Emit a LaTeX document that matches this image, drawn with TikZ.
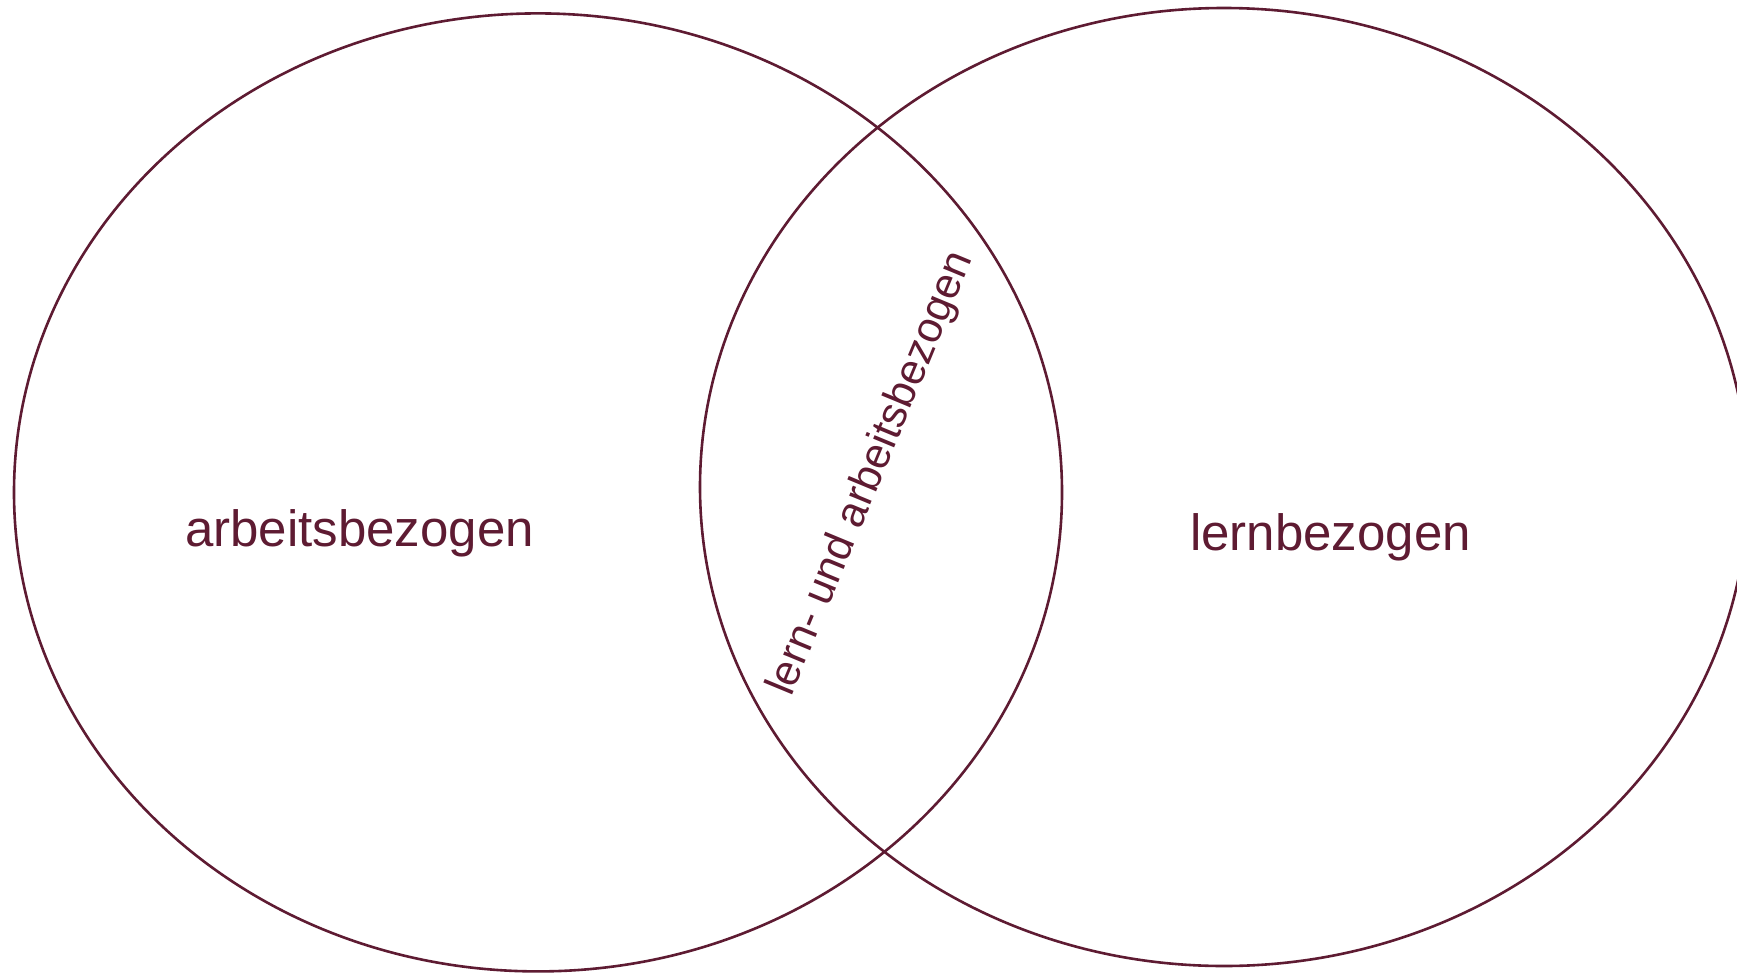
\documentclass[tikz,border=0pt]{standalone}
\usepackage{fontspec}
\setmainfont{Liberation Sans}
\usetikzlibrary{shapes.geometric}
\definecolor{maroon}{RGB}{94,27,50}
\begin{document}
\begin{tikzpicture}[x=1pt,y=-1pt,
  setcircle/.style={draw=maroon, line width=2.6pt, ellipse, inner sep=0pt,
    minimum width=1048pt, minimum height=958pt},
  biglabel/.style={text=maroon, inner sep=0pt, anchor=base west,
    font=\fontsize{51}{60}\selectfont},
  midlabel/.style={text=maroon, inner sep=0pt, anchor=base west,
    font=\fontsize{43}{50}\selectfont}]
\useasboundingbox (0,0) rectangle (1737,972);
\node[setcircle] (left) at (538,492.4) {};
\node[setcircle] (right) at (1224,487) {};
\node[biglabel] (arbeit) at (185,546) {arbeitsbezogen};
\node[biglabel] (lern) at (1190,550) {lernbezogen};
\node[midlabel, rotate=67.5] (both) at (791,698) {lern- und arbeitsbezogen};
\end{tikzpicture}
\end{document}
